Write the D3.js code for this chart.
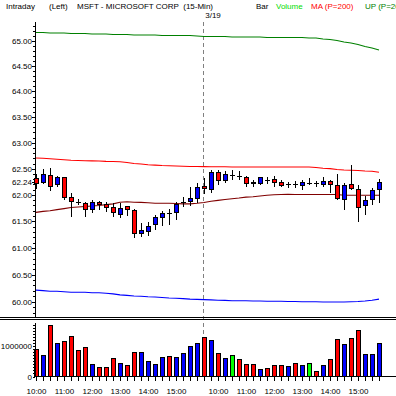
<!DOCTYPE html>
<html>
<head>
<meta charset="utf-8">
<script src="https://cdn.jsdelivr.net/npm/d3@7"></script>
<style>
  body { margin: 0; background: #fff; }
  svg { display: block; font-family: "Liberation Sans", Arial, sans-serif; }
  text { font-size: 8px; fill: #000; }
</style>
</head>
<body>
<svg width="396" height="396"></svg>
<script>
// bar times (15-min), two sessions, the second one starts on 3/19
const times = [
  "10:00","10:15","10:30","10:45","11:00","11:15","11:30","11:45","12:00","12:15","12:30","12:45",
  "13:00","13:15","13:30","13:45","14:00","14:15","14:30","14:45","15:00","15:15","15:30","15:45",
  "9:30","9:45","10:00","10:15","10:30","10:45","11:00","11:15","11:30","11:45","12:00","12:15","12:30","12:45",
  "13:00","13:15","13:30","13:45","14:00","14:15","14:30","14:45","15:00","15:15","15:30","15:45"
];
const dayBreak = 24;   // first bar of 3/19

const open  = [62.31,62.23,62.38,62.20,62.33,61.95,61.87,61.84,61.73,61.86,61.82,61.77,
               61.62,61.78,61.71,61.27,61.31,61.44,61.58,61.66,61.67,61.86,61.87,61.94,
               62.16,62.11,62.42,62.28,62.38,62.36,62.33,62.24,62.22,62.28,62.29,62.23,62.20,62.20,
               62.18,62.23,62.22,62.20,62.25,62.18,61.91,62.20,62.10,61.79,61.91,62.10];
const high  = [62.40,62.49,62.51,62.37,62.33,62.03,61.93,61.87,61.90,61.88,61.87,61.84,
               61.84,61.79,61.73,61.47,61.49,61.62,61.70,61.73,61.87,61.96,62.15,62.23,
               62.33,62.47,62.47,62.45,62.47,62.45,62.37,62.28,62.34,62.34,62.36,62.28,62.25,62.26,
               62.28,62.33,62.26,62.35,62.28,62.39,62.22,62.58,62.18,61.98,62.14,62.31];
const low   = [62.12,62.20,62.07,62.15,61.90,61.58,61.81,61.58,61.65,61.71,61.68,61.58,
               61.56,61.60,61.19,61.20,61.22,61.33,61.41,61.43,61.52,61.77,61.78,61.84,
               62.01,62.03,62.18,62.23,62.28,62.28,62.15,62.15,62.18,62.21,62.15,62.15,62.14,62.14,
               62.09,62.18,62.16,62.16,62.04,61.90,61.71,62.10,61.49,61.62,61.81,61.84];
const close = [62.22,62.39,62.16,62.33,61.96,61.88,61.87,61.73,61.86,61.82,61.77,61.67,
               61.75,61.72,61.27,61.33,61.41,61.57,61.65,61.66,61.82,61.86,61.94,62.14,
               62.12,62.42,62.28,62.39,62.38,62.36,62.22,62.21,62.33,62.28,62.24,62.18,62.20,62.20,
               62.23,62.23,62.22,62.25,62.20,61.93,62.18,62.12,61.76,61.90,62.08,62.24];

const volume = [880000,700000,1670000,1090000,1150000,1320000,860000,960000,400000,300000,300000,590000,
                430000,370000,780000,780000,500000,400000,630000,650000,630000,760000,990000,1090000,
                1280000,1180000,760000,590000,700000,570000,400000,400000,240000,260000,370000,370000,340000,430000,
                370000,430000,170000,370000,570000,1220000,1050000,1250000,1510000,730000,730000,1090000];
// d = down, u = up, n = unchanged
const volDir = ["d","u","d","u","d","d","d","d","u","d","d","d",
                "u","d","d","u","u","u","u","d","u","u","u","u",
                "d","u","d","u","n","d","d","d","u","d","d","d","u","d",
                "u","n","d","u","d","d","u","d","d","u","u","u"];

// overlay lines
const upBand = [65.17,65.17,65.16,65.16,65.16,65.15,65.15,65.15,65.14,65.14,65.14,65.13,
                65.13,65.13,65.12,65.12,65.12,65.12,65.11,65.11,65.11,65.11,65.11,65.10,
                65.09,65.09,65.09,65.09,65.08,65.08,65.08,65.08,65.08,65.07,65.07,65.07,65.07,65.07,
                65.07,65.06,65.06,65.04,65.03,65.01,64.98,64.96,64.93,64.89,64.86,64.82];
const maLine = [62.707,62.701,62.692,62.682,62.672,62.663,62.659,62.655,62.651,62.649,62.642,62.638,
                62.634,62.621,62.601,62.592,62.576,62.569,62.561,62.557,62.553,62.548,62.544,62.542,
                62.540,62.538,62.538,62.538,62.534,62.534,62.534,62.534,62.534,62.534,62.534,62.534,62.534,62.534,
                62.534,62.534,62.525,62.509,62.503,62.486,62.476,62.471,62.465,62.457,62.452,62.432];
const midLine = [61.668,61.687,61.70,61.72,61.74,61.76,61.77,61.78,61.79,61.80,61.815,61.83,
                 61.86,61.87,61.86,61.857,61.85,61.84,61.84,61.84,61.836,61.83,61.83,61.84,
                 61.857,61.88,61.896,61.913,61.926,61.94,61.957,61.966,61.98,61.994,62.004,62.009,62.013,62.008,
                 62.008,62.008,62.008,62.008,62.008,62.008,61.994,61.994,61.994,61.994,61.994,61.994];
const dnBand = [60.214,60.204,60.194,60.194,60.184,60.175,60.175,60.175,60.165,60.165,60.155,60.145,
                60.126,60.116,60.106,60.101,60.092,60.087,60.077,60.067,60.063,60.057,60.048,60.042,
                60.038,60.033,60.028,60.024,60.018,60.018,60.018,60.013,60.013,60.009,60.009,60.009,60.004,60.004,
                59.999,59.999,59.999,59.994,59.994,59.994,59.994,59.999,60.004,60.013,60.028,60.048];

const priceTicks = [60,60.5,61,61.5,62,62.5,63,63.5,64,64.5,65];
const lastPrice = 62.24;
const volTicks = [0, 1000000];

const svg = d3.select("svg");
const colors = { d: "#ff0000", u: "#0000ff", n: "#00ff00" };

const x = d3.scaleBand().domain(d3.range(times.length)).range([32, 382]);
const cx = i => Math.round(x(i) + x.bandwidth() / 2);
const y = d3.scaleLog().domain([60, 65]).range([301.7, 41]);
const yv = d3.scaleLinear().domain([0, 1000000]).range([376.5, 346]);

// header
const header = [
  {t: "Intraday", x: 6, c: "#000"},
  {t: "(Left)", x: 49, c: "#000"},
  {t: "MSFT - MICROSOFT CORP  (15-Min)", x: 77, c: "#000"},
  {t: "Bar", x: 256, c: "#000"},
  {t: "Volume", x: 276, c: "#00dd00"},
  {t: "MA (P=200)", x: 311, c: "#ff0000"},
  {t: "UP (P=20)", x: 365, c: "#008000"}
];
svg.selectAll(".hdr").data(header).join("text")
  .attr("x", d => d.x).attr("y", 9)
  .style("fill", d => d.c).style("white-space", "pre")
  .text(d => d.t);
svg.append("text").attr("x", cx(dayBreak) + 9).attr("y", 17.5)
  .attr("text-anchor", "middle").text("3/19");

// session break
svg.append("line")
  .attr("x1", cx(dayBreak) - 0.5).attr("x2", cx(dayBreak) - 0.5)
  .attr("y1", 22).attr("y2", 376)
  .attr("stroke", "#808080").attr("stroke-dasharray", "4,3");

// price axis
const g = svg.append("g").attr("shape-rendering", "crispEdges");
g.append("line").attr("x1", 35).attr("x2", 35).attr("y1", 22).attr("y2", 317).attr("stroke", "#000");
const minor = d3.range(597, 654).map(v => v / 10).filter(v => y(v) >= 22 && y(v) <= 317);
g.selectAll(".mt").data(minor).join("line")
  .attr("x1", 33).attr("x2", 35).attr("y1", d => Math.round(y(d)) + 0.5).attr("y2", d => Math.round(y(d)) + 0.5)
  .attr("stroke", "#000");
g.selectAll(".pt").data(priceTicks.concat([lastPrice])).join("line")
  .attr("x1", 32).attr("x2", 35).attr("y1", d => Math.round(y(d)) + 0.5).attr("y2", d => Math.round(y(d)) + 0.5)
  .attr("stroke", "#000");
svg.selectAll(".pl").data(priceTicks.concat([lastPrice])).join("text")
  .attr("x", 32).attr("y", d => y(d) + 3).attr("text-anchor", "end")
  .text(d => d.toFixed(2));

// overlay lines
const line = d3.line().x((d, i) => cx(i)).y(d => y(d));
[[upBand, "#008000"], [maLine, "#ff0000"], [midLine, "#800000"], [dnBand, "#0000ff"]].forEach(([arr, c]) => {
  svg.append("path").datum(arr).attr("d", line).attr("fill", "none")
    .attr("stroke", c).attr("stroke-width", 1.1);
});

// candles
const bars = d3.range(times.length);
const cg = svg.append("g").attr("shape-rendering", "crispEdges");
cg.selectAll(".wick").data(bars).join("line")
  .attr("x1", i => cx(i) + 0.5).attr("x2", i => cx(i) + 0.5)
  .attr("y1", i => y(high[i])).attr("y2", i => y(low[i]))
  .attr("stroke", "#000");
cg.selectAll(".body").data(bars.filter(i => open[i] !== close[i])).join("rect")
  .attr("x", i => cx(i) - 1.5).attr("width", 4)
  .attr("y", i => y(Math.max(open[i], close[i])))
  .attr("height", i => Math.max(1, Math.abs(y(open[i]) - y(close[i]))))
  .attr("fill", i => close[i] < open[i] ? colors.d : colors.u)
  .attr("stroke", "#000");
cg.selectAll(".doji").data(bars.filter(i => open[i] === close[i])).join("line")
  .attr("x1", i => cx(i) - 2).attr("x2", i => cx(i) + 3)
  .attr("y1", i => Math.round(y(open[i])) + 0.5).attr("y2", i => Math.round(y(open[i])) + 0.5)
  .attr("stroke", "#000");

// panel separator
g.append("line").attr("x1", 0).attr("x2", 396).attr("y1", 317.5).attr("y2", 317.5).attr("stroke", "#000");
g.append("line").attr("x1", 0).attr("x2", 396).attr("y1", 319.5).attr("y2", 319.5).attr("stroke", "#000");

// volume panel
const vg = svg.append("g").attr("shape-rendering", "crispEdges");
vg.selectAll(".vb").data(bars).join("rect")
  .attr("x", i => cx(i) - 1.5).attr("width", 4)
  .attr("y", i => yv(volume[i])).attr("height", i => yv(0) - yv(volume[i]))
  .attr("fill", i => colors[volDir[i]]).attr("stroke", "#000");
vg.append("line").attr("x1", 35).attr("x2", 35).attr("y1", 322.5).attr("y2", 376.5).attr("stroke", "#000");
vg.selectAll(".vm").data(d3.range(0, 1800000, 100000)).join("line")
  .attr("x1", 33).attr("x2", 35).attr("y1", d => Math.round(yv(d)) + 0.5).attr("y2", d => Math.round(yv(d)) + 0.5)
  .attr("stroke", "#000");
svg.selectAll(".vl").data(volTicks).join("text")
  .attr("x", 32).attr("y", d => yv(d) + 3).attr("text-anchor", "end")
  .text(d => d);
vg.append("line").attr("x1", 35).attr("x2", 396).attr("y1", 376.5).attr("y2", 376.5).attr("stroke", "#000");

// time axis
vg.selectAll(".xt").data(bars).join("line")
  .attr("x1", i => cx(i) + 0.5).attr("x2", i => cx(i) + 0.5)
  .attr("y1", 376.5).attr("y2", 381).attr("stroke", "#000");
svg.selectAll(".xl").data(bars.filter(i => times[i].endsWith(":00"))).join("text")
  .attr("x", i => cx(i) + 0.5).attr("y", 394).attr("text-anchor", "middle")
  .text(i => times[i]);
</script>
</body>
</html>
